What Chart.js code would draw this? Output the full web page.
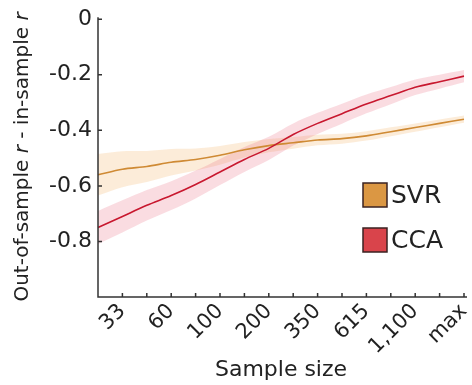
<!DOCTYPE html>
<html>
<head>
<meta charset="utf-8">
<script src="https://cdn.jsdelivr.net/npm/chart.js@4"></script>
<style>
  html, body { margin: 0; padding: 0; background: #fff; }
  #wrap { width: 472px; height: 385px; position: relative; }
</style>
</head>
<body>
<div id="wrap"><canvas id="chart"></canvas></div>
<script>
// Etiquetas del eje x (una por marca, vacías en las marcas intermedias)
const sampleLabels = ['', '33', '', '60', '', '100', '', '200', '', '350', '', '615', '', '1,100', '', 'max'];

// SVR: media y banda
const svrMean  = [-0.56, -0.54, -0.53, -0.515, -0.505, -0.49, -0.47, -0.455, -0.445, -0.435, -0.43, -0.42, -0.405, -0.39, -0.375, -0.36];
const svrUpper = [-0.485, -0.475, -0.474, -0.467, -0.465, -0.456, -0.442, -0.431, -0.424, -0.416, -0.412, -0.403, -0.389, -0.375, -0.361, -0.347];
const svrLower = [-0.635, -0.605, -0.586, -0.563, -0.545, -0.524, -0.498, -0.479, -0.466, -0.454, -0.448, -0.437, -0.421, -0.405, -0.389, -0.373];

// CCA: media y banda
const ccaMean  = [-0.75, -0.71, -0.67, -0.635, -0.595, -0.55, -0.505, -0.465, -0.415, -0.375, -0.34, -0.305, -0.275, -0.245, -0.225, -0.205];
const ccaUpper = [-0.69, -0.652, -0.615, -0.583, -0.545, -0.503, -0.46, -0.423, -0.375, -0.337, -0.304, -0.271, -0.244, -0.217, -0.2, -0.183];
const ccaLower = [-0.81, -0.768, -0.725, -0.687, -0.645, -0.597, -0.55, -0.507, -0.455, -0.413, -0.376, -0.339, -0.306, -0.273, -0.25, -0.227];

const yTicks = [0, -0.2, -0.4, -0.6, -0.8];

const COLORS = {
    svrLine: '#cf8a34',
    svrBand: 'rgba(245, 185, 120, 0.28)',
    svrBox: '#db9743',
    ccaLine: '#c8182f',
    ccaBand: 'rgba(235, 110, 130, 0.24)',
    ccaBox: '#d9444b',
    axis: '#333333',
    text: '#222222'
};
const FONT = "'DejaVu Sans', sans-serif";

// Ejes estilo MATLAB, marcas hacia dentro, título del eje y y leyenda
const decor = {
    id: 'decor',
    afterDraw(chart) {
        const ctx = chart.ctx;
        const area = chart.chartArea;
        const xs = chart.scales.x;
        const ys = chart.scales.y;
        ctx.save();
        ctx.strokeStyle = COLORS.axis;
        ctx.lineWidth = 1.5;
        ctx.beginPath();
        ctx.moveTo(area.left, area.top - 2);
        ctx.lineTo(area.left, area.bottom);
        ctx.lineTo(area.right + 3, area.bottom);
        // marcas del eje x
        for (let i = 1; i < sampleLabels.length; i++) {
            const px = xs.getPixelForValue(i);
            ctx.moveTo(px, area.bottom);
            ctx.lineTo(px, area.bottom - 4);
        }
        // marcas del eje y
        yTicks.forEach(v => {
            const py = ys.getPixelForValue(v);
            ctx.moveTo(area.left, py);
            ctx.lineTo(area.left + 4, py);
        });
        ctx.stroke();

        // título del eje y con r en cursiva
        const parts = [
            ['Out-of-sample ', false], ['r', true], [' - in-sample ', false], ['r', true]
        ];
        ctx.fillStyle = COLORS.text;
        ctx.textBaseline = 'middle';
        ctx.textAlign = 'left';
        let total = 0;
        parts.forEach(p => {
            ctx.font = (p[1] ? 'italic ' : '') + '20px ' + FONT;
            total += ctx.measureText(p[0]).width;
        });
        ctx.translate(23, 157);
        ctx.rotate(-Math.PI / 2);
        let x = -total / 2;
        parts.forEach(p => {
            ctx.font = (p[1] ? 'italic ' : '') + '20px ' + FONT;
            ctx.fillText(p[0], x, 0);
            x += ctx.measureText(p[0]).width;
        });
        ctx.setTransform(1, 0, 0, 1, 0, 0);

        // leyenda
        const items = [['SVR', COLORS.svrBox, 195], ['CCA', COLORS.ccaBox, 240]];
        items.forEach(it => {
            ctx.fillStyle = it[1];
            ctx.fillRect(363, it[2] - 12, 24, 24);
            ctx.strokeStyle = '#3a2222';
            ctx.lineWidth = 1.5;
            ctx.strokeRect(363, it[2] - 12, 24, 24);
            ctx.fillStyle = COLORS.text;
            ctx.font = '25px ' + FONT;
            ctx.textAlign = 'left';
            ctx.textBaseline = 'middle';
            ctx.fillText(it[0], 391, it[2] + 1);
        });
        ctx.restore();
    }
};

const bandStyle = {
    borderWidth: 0,
    pointRadius: 0,
    tension: 0.3
};

new Chart(document.getElementById('chart'), {
    type: 'line',
    data: {
        labels: sampleLabels,
        datasets: [
            { label: 'CCA', data: ccaMean, borderColor: COLORS.ccaLine, borderWidth: 1.6, pointRadius: 0, tension: 0.3, fill: false, order: 0 },
            { label: 'SVR', data: svrMean, borderColor: COLORS.svrLine, borderWidth: 1.6, pointRadius: 0, tension: 0.3, fill: false, order: 0 },
            Object.assign({ label: 'ccaUp', data: ccaUpper, backgroundColor: COLORS.ccaBand, borderColor: 'transparent', fill: '+1', order: 1 }, bandStyle),
            Object.assign({ label: 'ccaLo', data: ccaLower, borderColor: 'transparent', fill: false, order: 1 }, bandStyle),
            Object.assign({ label: 'svrUp', data: svrUpper, backgroundColor: COLORS.svrBand, borderColor: 'transparent', fill: '+1', order: 2 }, bandStyle),
            Object.assign({ label: 'svrLo', data: svrLower, borderColor: 'transparent', fill: false, order: 2 }, bandStyle)
        ]
    },
    options: {
        responsive: true,
        maintainAspectRatio: false,
        animation: false,
        layout: { padding: { top: 17, right: 8, left: 0, bottom: 0 } },
        plugins: {
            legend: { display: false },
            tooltip: { enabled: false }
        },
        scales: {
            x: {
                type: 'category',
                offset: false,
                grid: { display: false, drawTicks: false },
                border: { display: false },
                ticks: {
                    autoSkip: false,
                    maxRotation: 45,
                    minRotation: 45,
                    padding: 2,
                    color: COLORS.text,
                    font: { family: FONT, size: 21 }
                },
                title: {
                    display: true,
                    text: 'Sample size',
                    color: COLORS.text,
                    font: { family: FONT, size: 22 },
                    padding: { top: 0, bottom: 2 }
                },
                afterFit: function(scale) {
                    scale.height = 88;
                    scale.paddingLeft = 0;
                    scale.paddingRight = 0;
                }
            },
            y: {
                min: -1,
                max: 0,
                grid: { display: false, drawTicks: false },
                border: { display: false },
                ticks: {
                    stepSize: 0.2,
                    padding: 6,
                    color: COLORS.text,
                    font: { family: FONT, size: 22 },
                    callback: function(value) {
                        const v = Math.round(value * 10) / 10;
                        return yTicks.includes(v) ? String(v) : '';
                    }
                },
                afterFit: function(scale) { scale.width = 98; }
            }
        }
    },
    plugins: [decor]
});
</script>
</body>
</html>
